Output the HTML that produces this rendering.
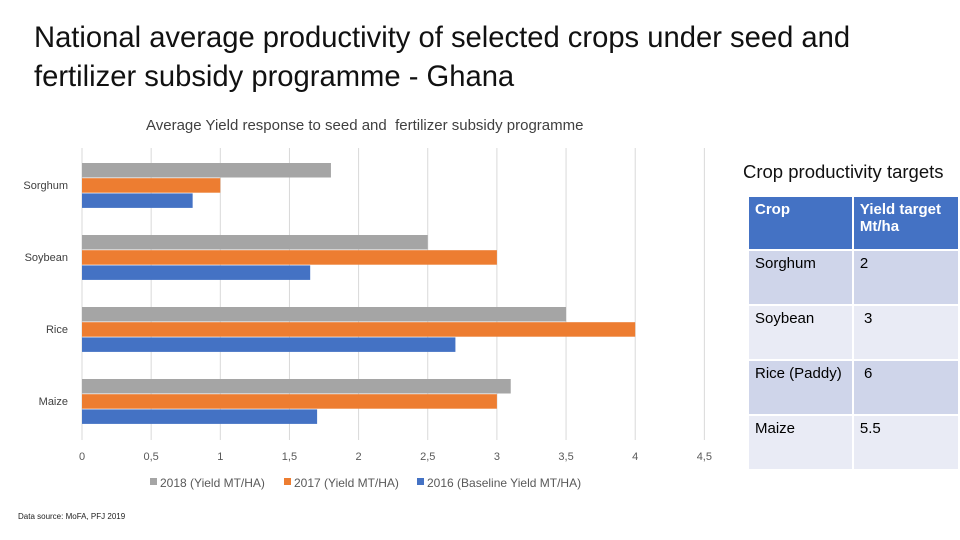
<!DOCTYPE html>
<html><head><meta charset="utf-8"><style>
body{margin:0;width:960px;height:540px;background:#fff;position:relative;overflow:hidden;font-family:"Liberation Sans",sans-serif}
.t{position:absolute}
table{position:absolute;left:747px;top:195px;border-collapse:collapse}
td{vertical-align:top;padding:4px 6px;font-size:15px;color:#000;border:2px solid #fff;box-sizing:border-box}
</style></head><body>
<div class="t" style="left:34px;top:19px;font-size:29.2px;line-height:39px;color:#111">National average productivity of selected crops under seed and<br>fertilizer subsidy programme - Ghana</div>
<div class="t" style="left:146px;top:117px;font-size:15px;color:#404040">Average Yield response to seed and&nbsp; fertilizer subsidy programme</div>
<svg id="chart" width="960" height="540" style="position:absolute;left:0;top:0"></svg>
<div class="t" style="left:18px;top:512px;font-size:8px;color:#222">Data source: MoFA, PFJ 2019</div>
<div class="t" style="left:743px;top:161px;font-size:18.5px;color:#111">Crop productivity targets</div>
<table>
<tr style="height:54px;background:#4472C4"><td style="width:106px;color:#fff;font-weight:bold">Crop</td><td style="width:108px;color:#fff;font-weight:bold">Yield target Mt/ha</td></tr>
<tr style="height:55px;background:#CFD5EA"><td>Sorghum</td><td>2</td></tr>
<tr style="height:55px;background:#E9EBF5"><td>Soybean</td><td>&nbsp;3</td></tr>
<tr style="height:55px;background:#CFD5EA"><td>Rice (Paddy)</td><td>&nbsp;6</td></tr>
<tr style="height:55px;background:#E9EBF5"><td>Maize</td><td>5.5</td></tr>
</table>
<script>
const categories=["Sorghum","Soybean","Rice","Maize"];
const s2018=[1.8,2.5,3.5,3.1];
const s2017=[1,3,4,3];
const s2016=[0.8,1.65,2.7,1.7];
const ticks=[0,0.5,1,1.5,2,2.5,3,3.5,4,4.5];
const tickLabels=["0","0,5","1","1,5","2","2,5","3","3,5","4","4,5"];
const seriesNames=["2018 (Yield MT/HA)","2017 (Yield MT/HA)","2016 (Baseline Yield MT/HA)"];
const colors=["#A5A5A5","#ED7D31","#4472C4"];
const svg=document.getElementById('chart');const NS="http://www.w3.org/2000/svg";
const x0=82,unit=138.3,plotTop=148,plotBot=440,cat0=185,catStep=72,bh=14.5;
const X=v=>x0+v*unit, Y=i=>cat0+i*catStep;
function mk(t,a){const e=document.createElementNS(NS,t);for(const k in a)e.setAttribute(k,a[k]);svg.appendChild(e);return e;}
ticks.forEach((t,i)=>{
 const l=mk('line',{x1:X(t),x2:X(t),y1:plotTop,y2:plotBot,stroke:'#D9D9D9','stroke-width':1});
 
 
 const tx=mk('text',{x:X(t),y:460,'text-anchor':'middle','font-size':11,fill:'#595959'});
 tx.textContent=tickLabels[i];
 
 
});
const series=[s2018,s2017,s2016];
categories.forEach((c,i)=>{
 const tx=mk('text',{x:68,y:Y(i)+4,'text-anchor':'end','font-size':11,fill:'#404040'});
 tx.textContent=c;
 
 
 series.forEach((s,j)=>{
  const r=mk('rect',{x:X(0),y:Y(i)-22+j*15.2,width:X(s[i])-X(0),height:bh,fill:colors[j]});
  
  
 });
});
const lx=[150,284,417];
seriesNames.forEach((n,j)=>{
 const r=mk('rect',{x:lx[j],y:478,width:7,height:7,fill:colors[j]});
 
 
 const t=mk('text',{x:lx[j]+10,y:487,'font-size':12,fill:'#595959'});
 t.textContent=n;
 
 
});
</script>
</body></html>
